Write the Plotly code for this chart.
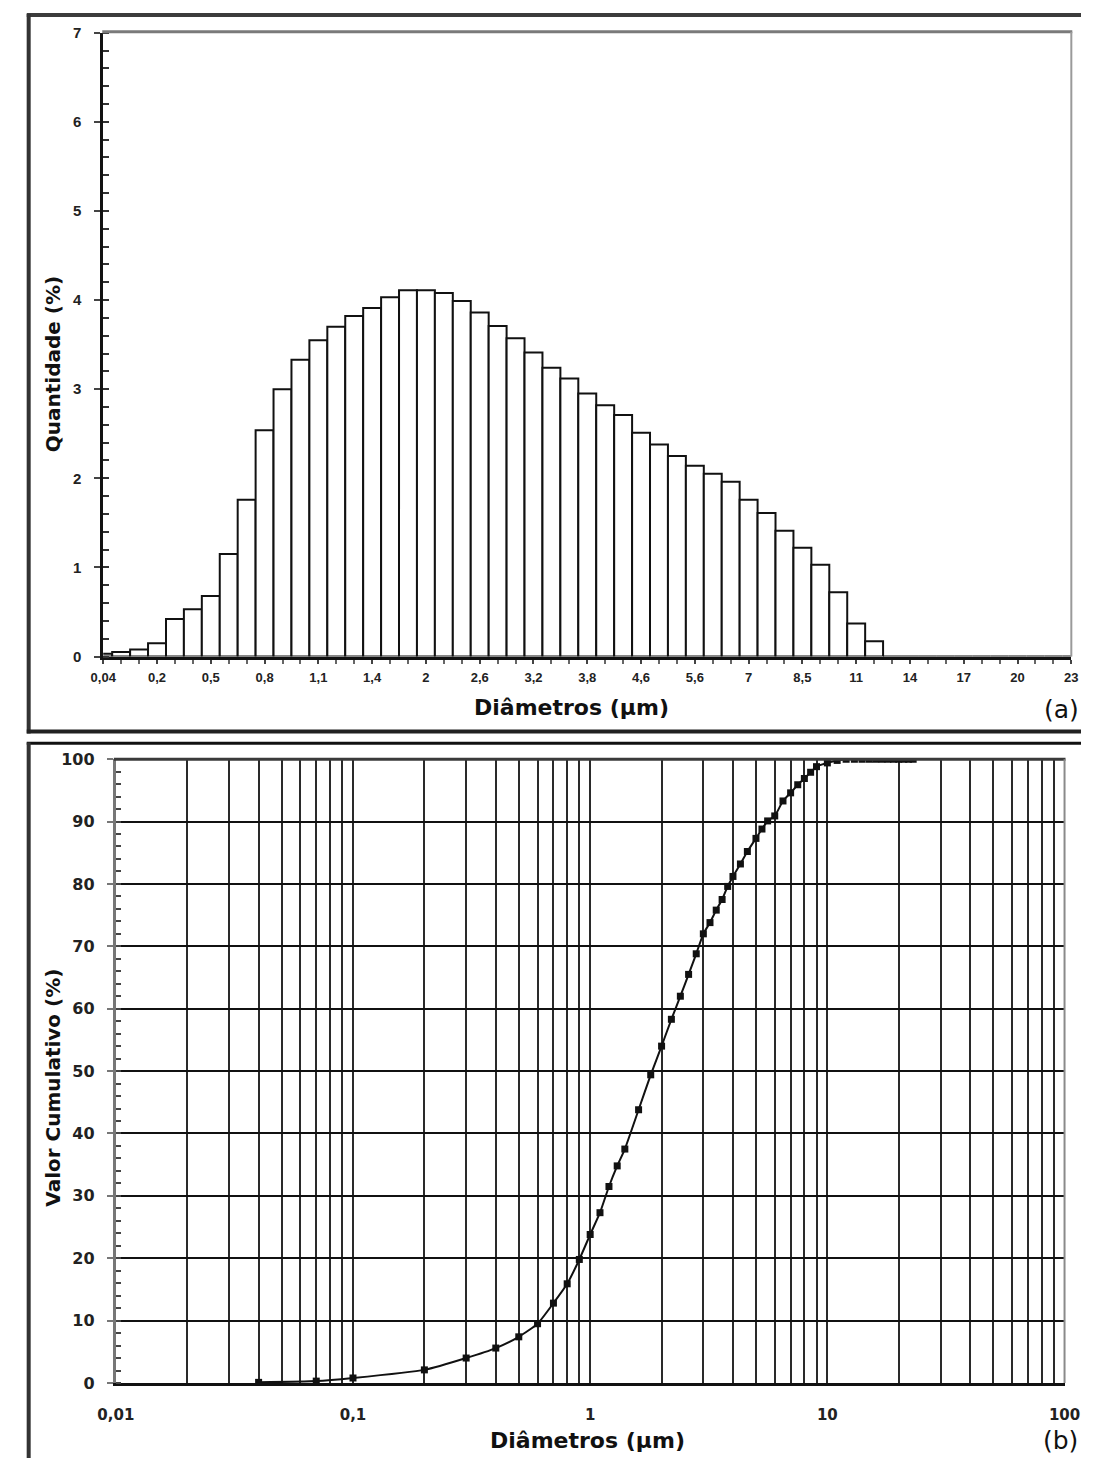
import plotly.graph_objects as go

# ---------------- data ----------------
diametros = [0.04, 0.07, 0.1, 0.2, 0.3, 0.4, 0.5, 0.6, 0.7, 0.8, 0.9, 1.0, 1.1, 1.2, 1.3, 1.4,
             1.6, 1.8, 2.0, 2.2, 2.4, 2.6, 2.8, 3.0, 3.2, 3.4, 3.6, 3.8, 4.0, 4.3, 4.6, 5.0,
             5.3, 5.6, 6.0, 6.5, 7.0, 7.5, 8.0, 8.5, 9.0, 10.0, 11.0, 12.0, 13.0, 14.0, 15.0,
             16.0, 17.0, 18.0, 19.0, 20.0, 21.0, 22.0, 23.0]

quantidade = [0.03, 0.05, 0.08, 0.15, 0.42, 0.53, 0.68, 1.15, 1.76, 2.54, 3.00, 3.33, 3.55,
              3.70, 3.82, 3.91, 4.03, 4.11, 4.11, 4.08, 3.99, 3.86, 3.71, 3.57, 3.41, 3.24,
              3.12, 2.95, 2.82, 2.71, 2.51, 2.38, 2.25, 2.14, 2.05, 1.96, 1.76, 1.61, 1.41,
              1.22, 1.03, 0.72, 0.37, 0.17, 0, 0, 0, 0, 0, 0, 0, 0, 0, 0, 0]

cumulativo = [0.1, 0.3, 0.8, 2.1, 4.0, 5.6, 7.4, 9.5, 12.8, 15.9, 19.8, 23.8, 27.3, 31.5,
              34.8, 37.5, 43.8, 49.4, 54.0, 58.3, 62.0, 65.5, 68.8, 72.0, 73.8, 75.8, 77.5,
              79.6, 81.2, 83.2, 85.2, 87.3, 88.8, 90.1, 90.9, 93.3, 94.6, 95.9, 96.9, 97.9,
              98.8, 99.4, 99.8, 100, 100, 100, 100, 100, 100, 100, 100, 100, 100, 100, 100]

decadas = [0.01, 0.1, 1, 10]
rotulos_decadas = ["0,01", "0,1", "1", "10", "100"]

W, H = 1097, 1468
FONT = "Liberation Sans, Arial, sans-serif"
WIDE = "DejaVu Sans, Liberation Sans, sans-serif"


def fx(px):
    return px / W


def fy(py):
    return 1 - py / H


def fmt(v):
    return f"{v:g}".replace(".", ",")


fig = go.Figure()

# ---------------- (a) histogram ----------------
idx = list(range(len(diametros)))
fig.add_trace(go.Bar(
    x=idx, y=quantidade, width=1.0,
    marker=dict(color="white", line=dict(color="#111", width=2)),
    xaxis="x", yaxis="y", showlegend=False,
))

# ---------------- (b) cumulative ----------------
fig.add_trace(go.Scatter(
    x=diametros, y=cumulativo, mode="lines+markers",
    line=dict(color="#111", width=2, shape="spline", smoothing=0.5),
    marker=dict(symbol="square", size=7, color="#111"),
    xaxis="x2", yaxis="y2", showlegend=False,
))

tick_idx = idx[::3]
log_ticks = []
log_text = []
for d in decadas:
    for m in range(1, 10):
        log_ticks.append(d * m)
        log_text.append(rotulos_decadas[decadas.index(d)] if m == 1 else "")
log_ticks.append(100)
log_text.append(rotulos_decadas[-1])

fig.update_layout(
    width=W, height=H,
    margin=dict(l=0, r=0, t=0, b=0),
    paper_bgcolor="white", plot_bgcolor="white",
    xaxis=dict(
        domain=[fx(87), fx(1087)], anchor="y",
        range=[0, len(diametros) - 1],
        tickmode="array", tickvals=tick_idx,
        ticktext=[fmt(diametros[i]) for i in tick_idx],
        tickfont=dict(family=FONT, size=13, color="#222", weight="bold"),
        ticks="outside", ticklen=4, tickwidth=2, tickcolor="#444",
        minor=dict(tickmode="linear", tick0=0, dtick=1, ticks="outside",
                   ticklen=4, tickwidth=2, tickcolor="#666"),
        showline=True, linecolor="#111", linewidth=3,
        showgrid=False, zeroline=False, ticklabelstandoff=3,
    ),
    yaxis=dict(
        domain=[fy(656), fy(24)], anchor="x",
        range=[0, 7], dtick=1,
        tickfont=dict(family=FONT, size=15, color="#222", weight="bold"),
        ticks="outside", ticklen=6, tickwidth=2, tickcolor="#444",
        minor=dict(dtick=0.2, ticks="inside", ticklen=6, tickwidth=2, tickcolor="#333"),
        showline=True, linecolor="#111", linewidth=3,
        showgrid=False, zeroline=False, ticklabelstandoff=10,
    ),
    xaxis2=dict(
        domain=[fx(100), fx(1080)], anchor="y2",
        type="log", range=[-2, 2],
        tickmode="array", tickvals=log_ticks, ticktext=log_text,
        tickfont=dict(family=WIDE, size=15, color="#222", weight="bold"), ticks="",
        showgrid=True, gridcolor="#2a2a2a", gridwidth=2,
        showline=True, linecolor="#111", linewidth=3,
        zeroline=False, ticklabelstandoff=16,
    ),
    yaxis2=dict(
        domain=[fy(1392), fy(760)], anchor="x2",
        range=[0, 100], dtick=10,
        tickfont=dict(family=WIDE, size=16, color="#222", weight="bold"),
        ticks="outside", ticklen=6, tickwidth=2, tickcolor="#777",
        minor=dict(dtick=2, ticks="inside", ticklen=5, tickwidth=2, tickcolor="#444"),
        showgrid=True, gridcolor="#111", gridwidth=2,
        showline=True, linecolor="#777", linewidth=3,
        zeroline=False, ticklabelstandoff=9,
    ),
)


def hline(x0, x1, y, color, width):
    return dict(type="line", xref="paper", yref="paper", x0=fx(x0), x1=fx(x1),
                y0=fy(y), y1=fy(y), line=dict(color=color, width=width))


def vline(x, y0, y1, color, width):
    return dict(type="line", xref="paper", yref="paper", x0=fx(x), x1=fx(x),
                y0=fy(y0), y1=fy(y1), line=dict(color=color, width=width))


shapes = [
    hline(86, 1088, 23, "#7a7a7a", 3),
    vline(1087, 23, 656, "#9a9a9a", 2),
    hline(98, 1081, 760, "#3a3a3a", 3),
    vline(1080, 760, 1392, "#8a8a8a", 2),
    # outer frames
    hline(8, 1097, 6, "#3c3c3c", 4),
    vline(10, 5, 734, "#333", 4),
    hline(8, 1097, 732, "#222", 4),
    hline(8, 1097, 744, "#111", 3),
    vline(10, 743, 1468, "#333", 4),
]
fig.update_layout(shapes=shapes)

annotations = [
    dict(text="Quantidade (%)", x=fx(35), y=fy(360), textangle=-90,
         font=dict(family=WIDE, size=20, color="#111", weight="bold")),
    dict(text="Diâmetros (µm)", x=fx(571), y=fy(708),
         font=dict(family=WIDE, size=22, color="#111", weight="bold")),
    dict(text="(a)", x=fx(1077), y=fy(710), font=dict(family=WIDE, size=25, color="#111")),
    dict(text="Valor Cumulativo (%)", x=fx(35), y=fy(1093), textangle=-90,
         font=dict(family=WIDE, size=20, color="#111", weight="bold")),
    dict(text="Diâmetros (µm)", x=fx(587), y=fy(1450),
         font=dict(family=WIDE, size=22, color="#111", weight="bold")),
    dict(text="(b)", x=fx(1076), y=fy(1450), font=dict(family=WIDE, size=25, color="#111")),
]
for a in annotations:
    a.update(xref="paper", yref="paper", showarrow=False, xanchor="center", yanchor="middle")
fig.update_layout(annotations=annotations)

fig.write_html("out.html")
